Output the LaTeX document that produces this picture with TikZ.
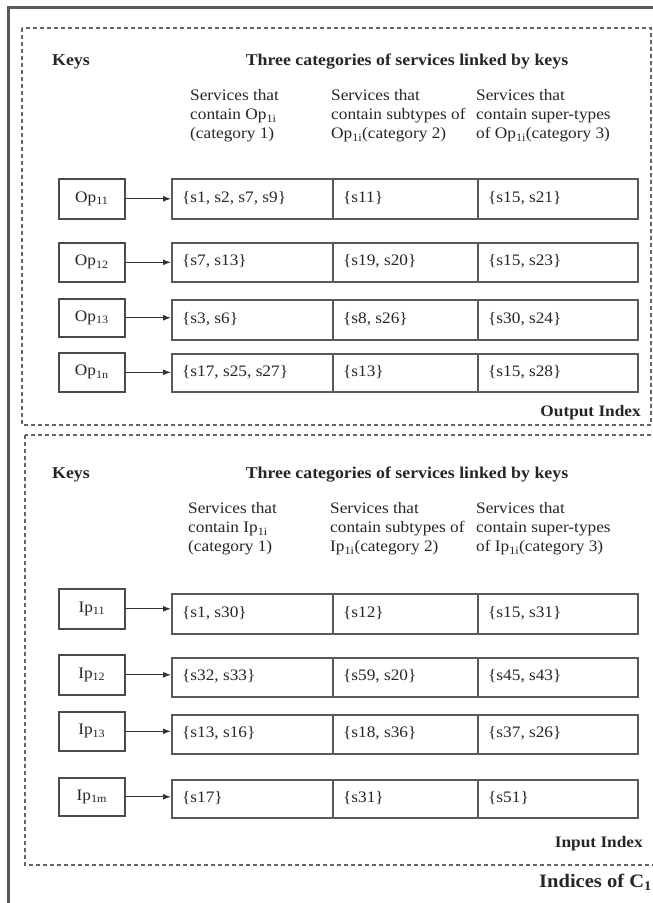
\documentclass[tikz,border=0pt]{standalone}
\usepackage{fontspec}
\setmainfont{Liberation Serif}[FakeStretch=1.08]
\usetikzlibrary{arrows.meta}
\newcommand{\svcrow}[9]{% #1 name, #2 top, #3 bottom, #4 t1, #5 t2, #6 t3, #7 key label, #8 key top, #9 key bottom
  \node[cell, minimum width=161pt, minimum height={(#3-#2)*1pt}, anchor=north west] (#1a) at (171,#2) {};
  \node[cell, minimum width=145pt, minimum height={(#3-#2)*1pt}, anchor=north west] (#1b) at (332,#2) {};
  \node[cell, minimum width=160pt, minimum height={(#3-#2)*1pt}, anchor=north west] (#1c) at (477,#2) {};
  \node[txt] (#1ta) at ([xshift=11pt]#1a.west) {#4};
  \node[txt] (#1tb) at ([xshift=11pt]#1b.west) {#5};
  \node[txt] (#1tc) at ([xshift=11pt]#1c.west) {#6};
  \node[keybox, minimum height={(#9-#8)*1pt}, anchor=north west] (#1k) at (58,#8) {#7};
  \draw[link] (#1k.east) -- (#1k.east -| #1a.west);
}
\newcommand{\hdr}[4]{% #1 x, #2 y, #3 text, #4 name
  \node[txt] (#4) at (#1,#2) {#3};
}
\begin{document}
\begin{tikzpicture}[x=1pt,y=-1pt,
  txt/.style={font=\fontsize{16}{19}\selectfont, inner sep=0pt, anchor=west, text=black!85, text height=10pt, text depth=3pt},
  bld/.style={txt, font=\fontsize{16.5}{19}\selectfont\bfseries},
  keybox/.style={draw=black!70, line width=1.6pt, minimum width=66pt, inner sep=0pt, font=\fontsize{16}{19}\selectfont, text=black!85},
  cell/.style={draw=black!65, line width=1.6pt, inner sep=0pt},
  link/.style={-{Latex[length=8pt,width=6pt]}, line width=1.2pt, draw=black!80},
  dbox/.style={dash pattern=on 4pt off 3pt, line width=1.2pt, draw=black!60}]
\useasboundingbox (0,0) rectangle (653,903);
\fill[white] (0,0) rectangle (653,903);
\draw[line width=3pt, black!65] (8,912) -- (8,7) -- (662,7);

% ---------- Output index ----------
\draw[dbox] (22,28) rectangle (651,425);
\node[bld] (keysA) at (52,62) {Keys};
\node[bld, anchor=center] (titleA) at (407,62) {Three categories of services linked by keys};
\hdr{190}{97}{Services that}{ha1}
\hdr{190}{116}{contain Op\textsubscript{1i}}{ha2}
\hdr{190}{135}{(category 1)}{ha3}
\hdr{331}{97}{Services that}{hb1}
\hdr{331}{116}{contain subtypes of}{hb2}
\hdr{331}{135}{Op\textsubscript{1i}(category 2)}{hb3}
\hdr{476}{97}{Services that}{hc1}
\hdr{476}{116}{contain super-types}{hc2}
\hdr{476}{135}{of Op\textsubscript{1i}(category 3)}{hc3}

\svcrow{oa}{178}{218}{\{s1, s2, s7, s9\}}{\{s11\}}{\{s15, s21\}}{Op\textsubscript{11}}{178}{218}
\svcrow{ob}{242}{281}{\{s7, s13\}}{\{s19, s20\}}{\{s15, s23\}}{Op\textsubscript{12}}{242}{281}
\svcrow{oc}{299}{339}{\{s3, s6\}}{\{s8, s26\}}{\{s30, s24\}}{Op\textsubscript{13}}{298}{336}
\svcrow{od}{353}{391}{\{s17, s25, s27\}}{\{s13\}}{\{s15, s28\}}{Op\textsubscript{1n}}{352}{391}
\node[bld, anchor=east, font=\fontsize{16}{19}\selectfont\bfseries] (outidx) at (641,413) {Output Index};

% ---------- Input index ----------
\draw[dbox] (25,435) rectangle (657,865);
\node[bld] (keysB) at (52,475) {Keys};
\node[bld, anchor=center] (titleB) at (407,475) {Three categories of services linked by keys};
\hdr{188}{510}{Services that}{ia1}
\hdr{188}{529}{contain Ip\textsubscript{1i}}{ia2}
\hdr{188}{548}{(category 1)}{ia3}
\hdr{330}{510}{Services that}{ib1}
\hdr{330}{529}{contain subtypes of}{ib2}
\hdr{330}{548}{Ip\textsubscript{1i}(category 2)}{ib3}
\hdr{476}{510}{Services that}{ic1}
\hdr{476}{529}{contain super-types}{ic2}
\hdr{476}{548}{of Ip\textsubscript{1i}(category 3)}{ic3}

\svcrow{ia}{593}{633}{\{s1, s30\}}{\{s12\}}{\{s15, s31\}}{Ip\textsubscript{11}}{588}{628}
\svcrow{ib}{657}{696}{\{s32, s33\}}{\{s59, s20\}}{\{s45, s43\}}{Ip\textsubscript{12}}{654}{694}
\svcrow{ic}{714}{753}{\{s13, s16\}}{\{s18, s36\}}{\{s37, s26\}}{Ip\textsubscript{13}}{711}{750}
\svcrow{id}{779}{817}{\{s17\}}{\{s31\}}{\{s51\}}{Ip\textsubscript{1m}}{777}{815}
\node[bld, anchor=east, font=\fontsize{16}{19}\selectfont\bfseries] (inidx) at (643,844) {Input Index};

\node[bld, anchor=east, font=\fontsize{19}{22}\selectfont\bfseries] (indc) at (652,884) {Indices of C\textsubscript{1}};
\end{tikzpicture}
\end{document}
